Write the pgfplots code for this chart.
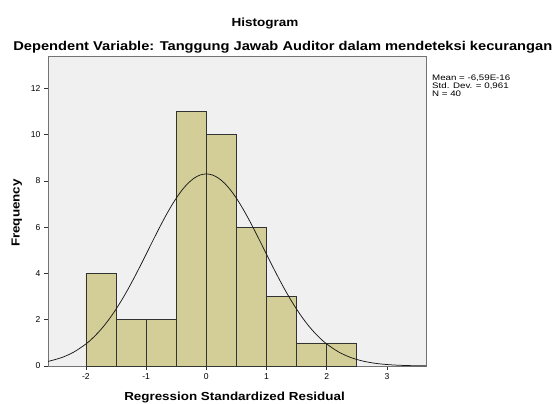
\documentclass[border=0pt]{standalone}
\usepackage{graphicx}
\usepackage{pgfplots}
\pgfplotsset{compat=1.18}
\usepackage{fontspec}
\setmainfont{Liberation Sans}
\definecolor{barfill}{HTML}{D3CE97}
\definecolor{bgfill}{HTML}{F0F0F0}
\begin{document}
\begin{tikzpicture}[x=1bp,y=1bp]
\path[use as bounding box] (0,0) rectangle (556,403);
\begin{axis}[
  at={(48bp,37bp)}, anchor=south west,
  scale only axis, width=378bp, height=310bp,
  xmin=-2.63, xmax=3.65, ymin=0, ymax=13.4,
  axis background/.style={fill=bgfill},
  axis line style={draw=black!55, line width=0.8pt},
  xtick={-2,-1,0,1,2,3}, ytick={0,2,4,6,8,10,12},
  tick align=outside, major tick length=4bp,
  tick style={black!80, line width=0.6pt},
  xtick pos=bottom, ytick pos=left,
  tick label style={font=\fontsize{8.6}{9}\selectfont},
  /pgf/number format/assume math mode=true,
  clip=true,
]
\addplot[ybar interval, fill=barfill, draw=black!80, line width=0.7pt] coordinates {
(-2,4) (-1.5,2) (-1,2) (-0.5,11) (0,10) (0.5,6) (1,3) (1.5,1) (2,1) (2.5,1)};
\addplot[smooth, black!90, line width=0.75pt] coordinates {
(-2.63,0.196) (-2.4,0.367) (-2.2,0.604) (-2.0,0.952) (-1.9,1.176) (-1.8,1.437) (-1.7,1.736)
(-1.6,2.077) (-1.5,2.456) (-1.4,2.873) (-1.3,3.325) (-1.2,3.808) (-1.1,4.312) (-1.0,4.832)
(-0.9,5.355) (-0.8,5.871) (-0.7,6.368) (-0.6,6.832) (-0.5,7.252) (-0.4,7.614) (-0.3,7.908)
(-0.2,8.125) (-0.1,8.258) (0,8.303) (0.1,8.258) (0.2,8.125) (0.3,7.908) (0.4,7.614)
(0.5,7.252) (0.6,6.832) (0.7,6.368) (0.8,5.871) (0.9,5.355) (1.0,4.832) (1.1,4.312)
(1.2,3.808) (1.3,3.325) (1.4,2.873) (1.5,2.456) (1.6,2.077) (1.7,1.736) (1.8,1.437)
(1.9,1.176) (2.0,0.952) (2.2,0.604) (2.4,0.367) (2.6,0.214) (2.8,0.119) (3.0,0.0635)
(3.2,0.0325) (3.4,0.0159) (3.65,0.0065)};
\end{axis}
\node[font=\fontsize{11.8}{13}\selectfont\bfseries, anchor=base, inner sep=0pt] at (265,376.3) {\scalebox{1.15}[1]{Histogram}};
\node[font=\fontsize{12.8}{14}\selectfont\bfseries, anchor=base, inner sep=0pt] at (282.8,352.7) {\scalebox{1.15}[1]{Dependent Variable: Tanggung Jawab Auditor dalam mendeteksi kecurangan}};
\node[font=\fontsize{8}{9}\selectfont, anchor=base west, inner sep=0pt] at (432,322.3) {\scalebox{1.22}[1]{Mean = -6,59E-16}};
\node[font=\fontsize{8}{9}\selectfont, anchor=base west, inner sep=0pt] at (432,314.5) {\scalebox{1.22}[1]{Std. Dev. = 0,961}};
\node[font=\fontsize{8}{9}\selectfont, anchor=base west, inner sep=0pt] at (432,306.5) {\scalebox{1.22}[1]{N = 40}};
\node[font=\fontsize{11.7}{13}\selectfont\bfseries, rotate=90, anchor=base, inner sep=0pt] at (19.5,190) {\scalebox{1.15}[1]{Frequency}};
\node[font=\fontsize{11.7}{13}\selectfont\bfseries, anchor=base, inner sep=0pt] at (234.5,3) {\scalebox{1.15}[1]{Regression Standardized Residual}};
\end{tikzpicture}
\end{document}
